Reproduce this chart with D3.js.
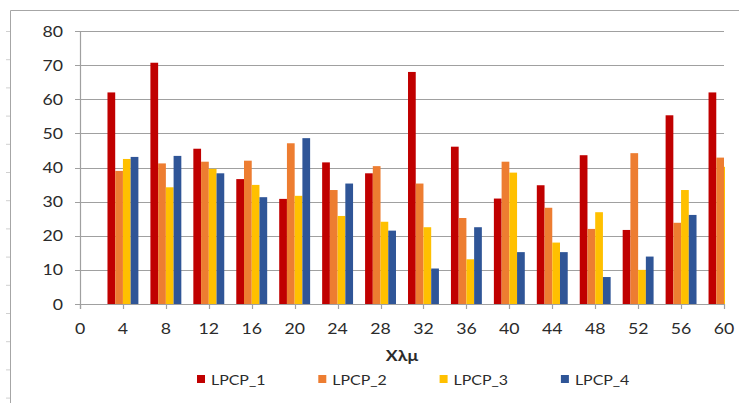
<!DOCTYPE html>
<html>
<head>
<meta charset="utf-8">
<script src="https://cdn.jsdelivr.net/npm/d3@7"></script>
<style>
  html, body { margin: 0; padding: 0; background: #fff; }
  svg { display: block; }
  text { font-family: Lato, "Open Sans", sans-serif; fill: #2b2b2b; }
</style>
</head>
<body>
<svg id="chart" width="739" height="403"></svg>
<script>
// data
const groups = [4, 8, 12, 16, 20, 24, 28, 32, 36, 40, 44, 48, 52, 56, 60];
const seriesNames = ['LPCP_1', 'LPCP_2', 'LPCP_3', 'LPCP_4'];
const lpcp1 = [62, 70.7, 45.5, 36.6, 30.8, 41.5, 38.3, 68, 46.1, 30.9, 34.8, 43.6, 21.7, 55.3, 62];
const lpcp2 = [39, 41.2, 41.7, 42, 47.1, 33.4, 40.4, 35.3, 25.2, 41.7, 28.2, 22, 44.2, 23.8, 42.9];
const lpcp3 = [42.5, 34.2, 39.6, 34.9, 31.7, 25.8, 24.1, 22.5, 13.1, 38.5, 18, 26.9, 10, 33.4, 40.2];
const lpcp4 = [43.1, 43.4, 38.3, 31.3, 48.6, 35.3, 21.5, 10.4, 22.5, 15.2, 15.2, 7.9, 13.9, 26.1, null];
const xTicks = d3.range(0, 61, 4);
const yTicks = d3.range(0, 81, 10);
const xTitle = 'Xλμ';

const colors = ['#c00000', '#ed7d31', '#ffc000', '#2f5597'];
const series = [lpcp1, lpcp2, lpcp3, lpcp4];
const SX = 1.18; // the reference text is stretched horizontally

const svg = d3.select('#chart');
const pl = 80, pr = 724, pt = 31, pb = 304;

const x = d3.scaleLinear().domain([0, 60]).range([pl, pr]);
const y = d3.scaleLinear().domain([0, 80]).range([pb, pt]);

function txt(g, str, tx, ty, anchor, size, weight) {
  return g.append('text')
    .attr('transform', `translate(${tx},${ty}) scale(${SX},1)`)
    .attr('text-anchor', anchor)
    .style('font-size', size + 'px')
    .style('font-weight', weight || 'normal')
    .text(str);
}

// outer frame and faint ruler marks
svg.append('path').attr('d', 'M10.5,403V10.5H739').attr('fill', 'none').attr('stroke', '#a6a6a6');
svg.selectAll('.ruler').data(d3.range(31.5, 403, 28.2)).enter().append('line')
  .attr('x1', 6).attr('x2', 10).attr('y1', d => d).attr('y2', d => d)
  .attr('stroke', '#d0d0d0');

// gridlines
svg.append('g').selectAll('line').data(yTicks).enter().append('line')
  .attr('x1', pl - 5).attr('x2', pr)
  .attr('y1', d => Math.round(y(d)) + 0.5).attr('y2', d => Math.round(y(d)) + 0.5)
  .attr('stroke', '#a0a0a0').attr('stroke-width', 1.2);

// y axis line
svg.append('line').attr('x1', pl + 0.5).attr('x2', pl + 0.5).attr('y1', pt).attr('y2', pb + 5)
  .attr('stroke', '#a0a0a0').attr('stroke-width', 1.2);

// x ticks
svg.append('g').selectAll('line').data(xTicks).enter().append('line')
  .attr('x1', d => Math.round(x(d)) + 0.5).attr('x2', d => Math.round(x(d)) + 0.5)
  .attr('y1', pb).attr('y2', pb + 5)
  .attr('stroke', '#a0a0a0').attr('stroke-width', 1.2);

// bars, clipped to plot area
svg.append('clipPath').attr('id', 'plot')
  .append('rect').attr('x', pl).attr('y', 0).attr('width', pr - pl + 1).attr('height', pb + 1);

const step = x(4) - x(0);
const barW = step * 0.18;
const bars = svg.append('g').attr('clip-path', 'url(#plot)');
series.forEach((vals, si) => {
  bars.selectAll(null)
    .data(groups.map((g, i) => ({ g, v: vals[i] })).filter(d => d.v != null))
    .enter().append('rect')
    .attr('x', d => x(d.g) - 2 * barW + si * barW)
    .attr('width', barW)
    .attr('y', d => y(d.v))
    .attr('height', d => y(0) - y(d.v))
    .attr('fill', colors[si]);
});

// tick labels
const labels = svg.append('g');
yTicks.forEach(t => txt(labels, t, 63, y(t) + 5.5, 'end', 15));
xTicks.forEach(t => txt(labels, t, x(t), 333.5, 'middle', 15));

// x title
txt(svg, xTitle, (pl + pr) / 2, 361, 'middle', 15, 'bold');

// legend
const leg = svg.append('g');
seriesNames.forEach((name, i) => {
  const lx = 197 + i * 121.3;
  leg.append('rect').attr('x', lx).attr('y', 375).attr('width', 8).attr('height', 8).attr('fill', colors[i]);
  txt(leg, name, lx + 14, 384.5, 'start', 13.5);
});
</script>
</body>
</html>
